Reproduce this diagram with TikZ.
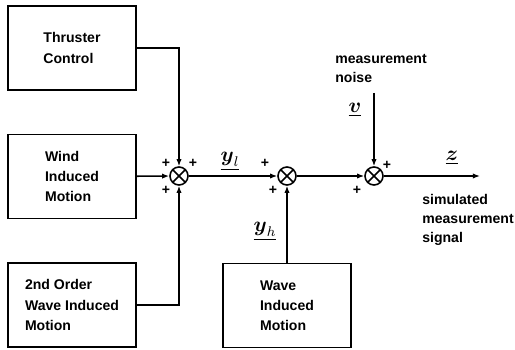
\documentclass[tikz,border=0pt]{standalone}
\usepackage{amsmath,amssymb}
\usepackage{fontspec}
\setmainfont{Liberation Sans}
\usepackage{tikz}
\usetikzlibrary{arrows.meta,positioning}

\begin{document}
\begin{tikzpicture}[
    x=0.02cm, y=0.02cm,
    block/.style={rectangle, draw, line width=0.9pt, minimum width=2.56cm,
                  minimum height=1.68cm, align=left, inner sep=0pt,
                  font=\fontsize{8}{11.5}\selectfont\bfseries},
    sumnode/.style={circle, draw, line width=0.9pt, minimum size=0.36cm, inner sep=0pt,
                    path picture={\draw[line width=0.9pt]
                        (path picture bounding box.north west) -- (path picture bounding box.south east)
                        (path picture bounding box.south west) -- (path picture bounding box.north east);}},
    arrow/.style={-{Latex[length=4pt, width=3pt]}, line width=0.9pt},
    sign/.style={font=\fontsize{8}{8}\selectfont\bfseries, inner sep=0pt},
    signal/.style={font=\large, inner sep=0pt},
    note/.style={align=left, inner sep=0pt, font=\fontsize{8}{11}\selectfont\bfseries}
]
\useasboundingbox (0,0) rectangle (515,349);

% Blocks
\node[block] (thruster) at (72,301) {Thruster\\Control};
\node[block, below=0.86cm of thruster] (wind) {Wind\\Induced\\Motion};
\node[block, below=0.86cm of wind] (secorder) {2nd Order\\Wave Induced\\Motion};

% Summing junctions
\node[sumnode] (sum1) at (179,173) {};
\node[sumnode] (sum2) at (287,173) {};
\node[sumnode] (sum3) at (374,173) {};
\node[block, below=1.54cm of sum2] (wave) {Wave\\Induced\\Motion};

\coordinate (noise) at (374,256);
\coordinate (out) at (480,173);

% Arrows
\draw[arrow] (thruster.east) -| (sum1.north);
\draw[arrow] (wind) -- (sum1);
\draw[arrow] (secorder.east) -| (sum1.south);
\draw[arrow] (sum1) -- (sum2);
\draw[arrow] (wave) -- (sum2);
\draw[arrow] (sum2) -- (sum3);
\draw[arrow] (noise) -- (sum3);
\draw[arrow] (sum3) -- (out);

% Signs
\node[sign] (p1) at (166,186) {+};
\node[sign] (p2) at (193,186) {+};
\node[sign] (p3) at (166,159) {+};
\node[sign] (p4) at (265,186) {+};
\node[sign] (p5) at (273,159) {+};
\node[sign] (p6) at (387,184) {+};
\node[sign] (p7) at (357,159) {+};

% Signal names
\node[signal] (yl) at (230,188) {$\underline{\boldsymbol{y}_{l}}$};
\node[signal] (yh) at (265,118) {$\underline{\boldsymbol{y}_{h}}$};
\node[signal] (v) at (355,239) {$\underline{\boldsymbol{v}}$};
\node[signal] (z) at (452,191) {$\underline{\boldsymbol{z}}$};

% Notes
\node[note, anchor=west] (noisetxt) at (335,280.5) {measurement\\noise};
\node[note, anchor=west] (outtxt) at (422,129) {simulated\\measurement\\signal};
\end{tikzpicture}
\end{document}
